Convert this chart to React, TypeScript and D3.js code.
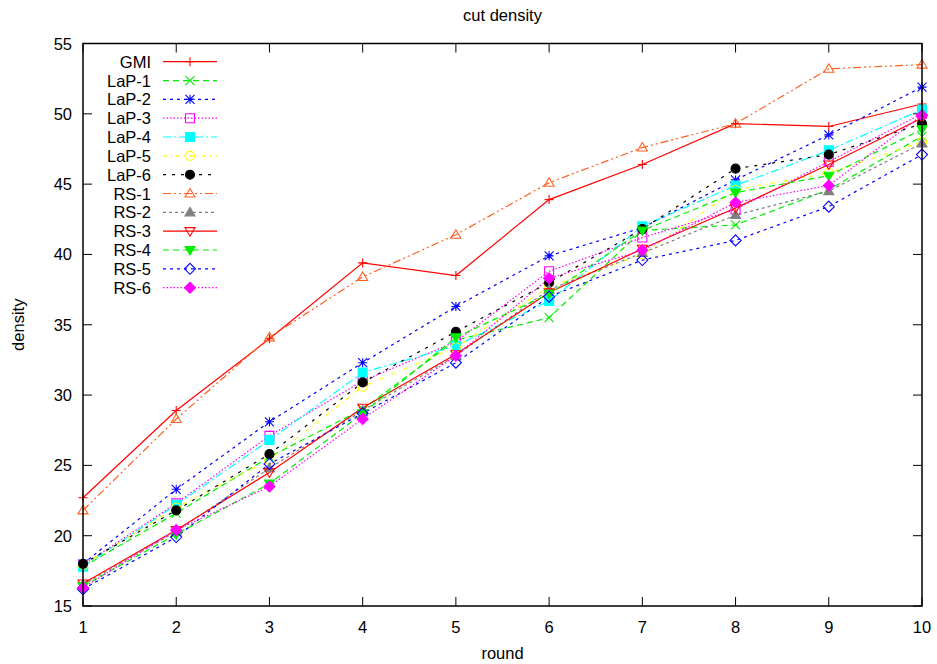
import { useEffect, useRef } from 'react'
import * as d3 from 'd3'

const rounds = [1, 2, 3, 4, 5, 6, 7, 8, 9, 10]
const yTicks = [15, 20, 25, 30, 35, 40, 45, 50, 55]

const gmi = [22.7, 28.9, 34.0, 39.4, 38.5, 43.9, 46.4, 49.3, 49.1, 50.7]
const lap1 = [17.8, 21.6, 25.6, 29.0, 33.9, 35.5, 41.7, 42.1, 44.6, 48.4]
const lap2 = [18.0, 23.3, 28.1, 32.3, 36.3, 39.9, 41.9, 45.3, 48.5, 51.9]
const lap3 = [17.9, 22.3, 27.1, 31.0, 33.8, 38.8, 41.2, 43.2, 46.6, 50.0]
const lap4 = [17.8, 22.2, 26.8, 31.6, 33.5, 36.7, 42.0, 44.9, 47.4, 50.3]
const lap5 = [17.9, 22.0, 25.4, 30.6, 33.4, 37.7, 40.0, 44.6, 45.8, 48.0]
const lap6 = [18.0, 21.8, 25.8, 30.9, 34.5, 38.0, 41.8, 46.1, 47.1, 49.3]
const rs1 = [21.8, 28.3, 34.1, 38.4, 41.4, 45.1, 47.6, 49.3, 53.2, 53.5]
const rs2 = [16.5, 20.3, 24.8, 28.9, 32.8, 37.5, 40.1, 42.8, 44.5, 47.9]
const rs3 = [16.6, 20.4, 24.5, 29.1, 32.9, 37.3, 40.4, 43.3, 46.4, 49.7]
const rs4 = [16.4, 20.1, 23.7, 28.7, 34.1, 37.2, 41.7, 44.4, 45.6, 48.9]
const rs5 = [16.2, 19.9, 25.1, 28.7, 32.3, 37.0, 39.6, 41.0, 43.4, 47.1]
const rs6 = [16.3, 20.4, 23.5, 28.3, 32.8, 38.3, 40.3, 43.7, 44.9, 49.9]

type Marker = 'plus' | 'x' | 'star' | 'square' | 'circle' | 'triUp' | 'triDown' | 'diamond'

interface Series { name: string; values: number[]; color: string; dash: string; marker: Marker; filled: boolean }

const series: Series[] = [
  { name: 'GMI', values: gmi, color: '#ff0000', dash: '', marker: 'plus', filled: false },
  { name: 'LaP-1', values: lap1, color: '#00ee00', dash: '6,4', marker: 'x', filled: false },
  { name: 'LaP-2', values: lap2, color: '#0000ff', dash: '3,4', marker: 'star', filled: false },
  { name: 'LaP-3', values: lap3, color: '#ff00ff', dash: '1.5,2', marker: 'square', filled: false },
  { name: 'LaP-4', values: lap4, color: '#00ffff', dash: '8,3,2,3', marker: 'square', filled: true },
  { name: 'LaP-5', values: lap5, color: '#ffff00', dash: '4,4,1,4', marker: 'circle', filled: false },
  { name: 'LaP-6', values: lap6, color: '#000000', dash: '3,6', marker: 'circle', filled: true },
  { name: 'RS-1', values: rs1, color: '#ff6020', dash: '8,3,2,3,2,3', marker: 'triUp', filled: false },
  { name: 'RS-2', values: rs2, color: '#808080', dash: '3,3', marker: 'triUp', filled: true },
  { name: 'RS-3', values: rs3, color: '#ff0000', dash: '', marker: 'triDown', filled: false },
  { name: 'RS-4', values: rs4, color: '#00ee00', dash: '6,4', marker: 'triDown', filled: true },
  { name: 'RS-5', values: rs5, color: '#0000ff', dash: '3,4', marker: 'diamond', filled: false },
  { name: 'RS-6', values: rs6, color: '#ff00ff', dash: '1.5,2', marker: 'diamond', filled: true },
]

function markerPath(m: Marker, x: number, y: number): string {
  const s = 4.5
  switch (m) {
    case 'plus': return `M${x - s},${y}H${x + s}M${x},${y - s}V${y + s}`
    case 'x': return `M${x - s},${y - s}L${x + s},${y + s}M${x - s},${y + s}L${x + s},${y - s}`
    case 'star': return `M${x - s},${y}H${x + s}M${x},${y - s}V${y + s}M${x - s},${y - s}L${x + s},${y + s}M${x - s},${y + s}L${x + s},${y - s}`
    case 'square': return `M${x - s},${y - s}H${x + s}V${y + s}H${x - s}Z`
    case 'circle': return `M${x - s},${y}A${s},${s} 0 1,0 ${x + s},${y}A${s},${s} 0 1,0 ${x - s},${y}Z`
    case 'triUp': return `M${x},${y - 5}L${x + 5},${y + 3.5}L${x - 5},${y + 3.5}Z`
    case 'triDown': return `M${x},${y + 5}L${x + 5},${y - 3.5}L${x - 5},${y - 3.5}Z`
    case 'diamond': return `M${x},${y - 5.5}L${x + 5.5},${y}L${x},${y + 5.5}L${x - 5.5},${y}Z`
  }
}

export default function App() {
  const svgRef = useRef<SVGSVGElement>(null)

  useEffect(() => {
    document.body.style.margin = '0'
    if (!svgRef.current) return
    const width = 937
    const height = 664
    const margin = { top: 43.5, right: 15, bottom: 58, left: 83 }
    const innerW = width - margin.left - margin.right
    const innerH = height - margin.top - margin.bottom
    const fs = '16.5px'

    const svg = d3.select(svgRef.current)
    svg.selectAll('*').remove()
    svg.attr('width', width).attr('height', height)
      .style('font-family', '"Liberation Sans", Arial, sans-serif')

    const g = svg.append('g').attr('transform', `translate(${margin.left},${margin.top})`)

    const x = d3.scaleLinear().domain([1, 10]).range([0, innerW])
    const y = d3.scaleLinear().domain([15, 55]).range([innerH, 0])

    // Ticks (inward, mirrored) and labels
    const tickLen = 9
    rounds.forEach(r => {
      const px = x(r)
      g.append('line').attr('x1', px).attr('x2', px).attr('y1', innerH).attr('y2', innerH - tickLen).attr('stroke', '#000')
      g.append('line').attr('x1', px).attr('x2', px).attr('y1', 0).attr('y2', tickLen).attr('stroke', '#000')
      g.append('text').attr('x', px).attr('y', innerH + 27).attr('text-anchor', 'middle')
        .attr('font-size', fs).attr('fill', '#000').text(r)
    })
    yTicks.forEach(t => {
      const py = y(t)
      g.append('line').attr('x1', 0).attr('x2', tickLen).attr('y1', py).attr('y2', py).attr('stroke', '#000')
      g.append('line').attr('x1', innerW).attr('x2', innerW - tickLen).attr('y1', py).attr('y2', py).attr('stroke', '#000')
      g.append('text').attr('x', -11).attr('y', py + 6).attr('text-anchor', 'end')
        .attr('font-size', fs).attr('fill', '#000').text(t)
    })

    // Series
    const line = d3.line<number>().x((_, i) => x(rounds[i])).y(d => y(d))
    series.forEach(s => {
      g.append('path').datum(s.values)
        .attr('fill', 'none').attr('stroke', s.color).attr('stroke-width', 1.2)
        .attr('stroke-dasharray', s.dash || null)
        .attr('d', line)
    })
    series.forEach(s => {
      s.values.forEach((v, i) => {
        g.append('path').attr('d', markerPath(s.marker, x(rounds[i]), y(v)))
          .attr('fill', s.filled ? s.color : 'none')
          .attr('stroke', s.color).attr('stroke-width', 1.1)
      })
    })

    // Frame
    g.append('rect').attr('width', innerW).attr('height', innerH)
      .attr('fill', 'none').attr('stroke', '#000').attr('stroke-width', 1.5)

    // Legend
    const legend = svg.append('g')
    series.forEach((s, i) => {
      const ly = 61.7 + i * 18.83
      legend.append('text').attr('x', 151).attr('y', ly + 6).attr('text-anchor', 'end')
        .attr('font-size', fs).attr('fill', '#000').text(s.name)
      legend.append('line').attr('x1', 163).attr('x2', 217).attr('y1', ly).attr('y2', ly)
        .attr('stroke', s.color).attr('stroke-width', 1.2).attr('stroke-dasharray', s.dash || null)
      legend.append('path').attr('d', markerPath(s.marker, 190, ly))
        .attr('fill', s.filled ? s.color : 'none').attr('stroke', s.color).attr('stroke-width', 1.1)
    })

    // Titles
    svg.append('text').attr('x', margin.left + innerW / 2).attr('y', 21).attr('text-anchor', 'middle')
      .attr('font-size', fs).attr('fill', '#000').text('cut density')
    svg.append('text').attr('x', margin.left + innerW / 2).attr('y', 659).attr('text-anchor', 'middle')
      .attr('font-size', fs).attr('fill', '#000').text('round')
    svg.append('text').attr('transform', `translate(24,${margin.top + innerH / 2}) rotate(-90)`)
      .attr('text-anchor', 'middle').attr('font-size', fs).attr('fill', '#000').text('density')
  }, [])

  return <svg ref={svgRef} style={{ display: 'block' }} />
}
